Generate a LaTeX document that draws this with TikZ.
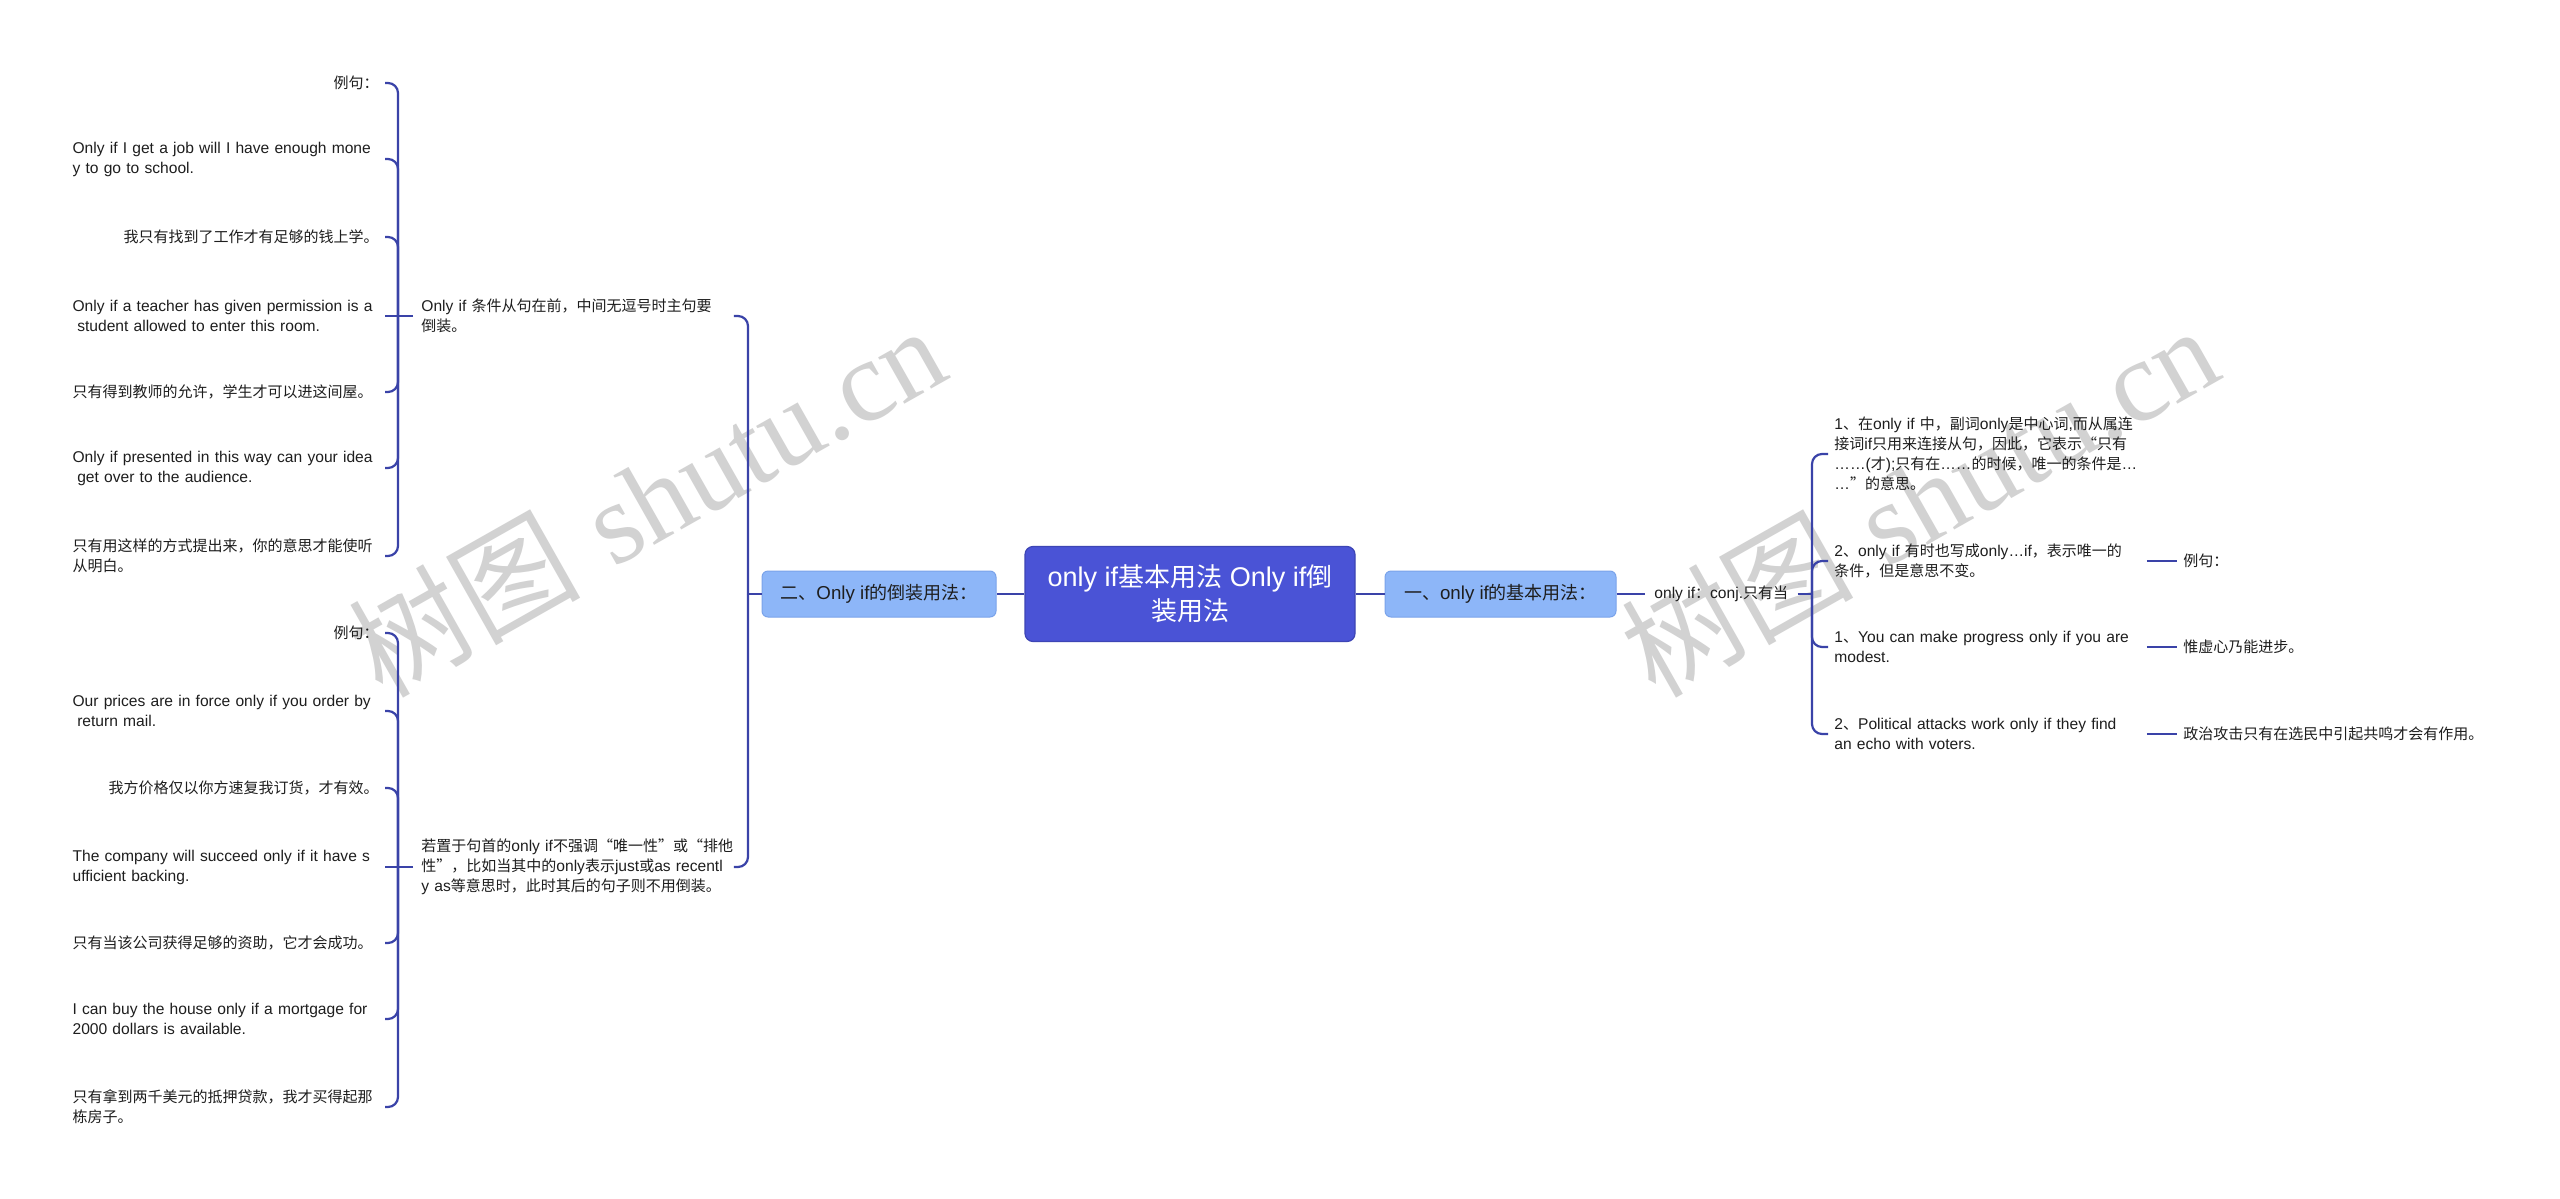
\documentclass[tikz,border=0pt]{standalone}
\usepackage{fontspec}
\setmainfont{Liberation Sans}[Scale=1.04]
\newfontfamily\cjkfont{Noto Sans CJK SC}
\newfontfamily\wmserif{Liberation Serif}
\newXeTeXintercharclass\cjkcls
\newcount\cjkcnt
\def\cjkrange#1#2{\cjkcnt=#1\relax
  \loop\XeTeXcharclass\cjkcnt=\cjkcls\relax
  \advance\cjkcnt by 1\relax
  \ifnum\cjkcnt<#2\relax\repeat}
\cjkrange{"3000}{"3040}
\cjkrange{"4E00}{"A000}
\cjkrange{"FF00}{"FFF0}
\cjkrange{"201C}{"201E}
\XeTeXinterchartoks 0 \cjkcls = {\cjkfont}
\XeTeXinterchartoks 4095 \cjkcls = {\cjkfont}
\XeTeXinterchartoks \cjkcls 0 = {\rmfamily}
\XeTeXinterchartoks \cjkcls 4095 = {\rmfamily}
\XeTeXinterchartokenstate=1
\definecolor{connc}{HTML}{3A43A8}
\definecolor{rootfill}{HTML}{4A53D6}
\definecolor{rootdraw}{HTML}{3D45B5}
\definecolor{subfill}{HTML}{8DB6F8}
\definecolor{subdraw}{HTML}{7AA3EA}
\definecolor{txt}{HTML}{1E1E1E}
\definecolor{wm}{HTML}{D2D2D2}
\newcommand\nohyph{\hyphenpenalty=10000\exhyphenpenalty=10000\relax}
\tikzset{
  conn/.style={draw=connc, line width=1.1pt, rounded corners=5pt},
  rootbox/.style={fill=rootfill, draw=rootdraw, line width=0.6pt, rounded corners=4pt,
    text=white, align=center, minimum width=165pt, minimum height=47.5pt,
    font=\fontsize{13}{17}\selectfont\nohyph, inner sep=0pt},
  subbox/.style={fill=subfill, draw=subdraw, line width=0.5pt, rounded corners=3pt,
    text=txt, minimum height=23pt, font=\fontsize{9}{12}\selectfont, inner xsep=0pt},
  txtsm/.style={text=txt, font=\fontsize{7.5}{10}\selectfont\nohyph},
  exL/.style={txtsm, anchor=east, inner xsep=3pt, inner ysep=1pt, text width=153pt, align=left},
  exR/.style={txtsm, anchor=east, inner xsep=3pt, inner ysep=1pt, text width=153pt, align=flush right},
  parL/.style={txtsm, anchor=west, inner xsep=4pt, text width=152pt, align=left},
  kidR/.style={txtsm, anchor=west, inner xsep=3pt, text width=153pt, align=left},
  leafR/.style={txtsm, anchor=west, inner xsep=3pt},
  oinode/.style={txtsm, anchor=west, inner xsep=4.5pt},
  wmark/.style={text=wm, rotate=29.5, font=\fontsize{58}{58}\selectfont, inner sep=0pt}
}
\begin{document}
\begin{tikzpicture}[x=0.5pt,y=-0.5pt]
\useasboundingbox (0,0) rectangle (2560,1199);
\fill[white] (0,0) rectangle (2560,1199);
% watermarks
\node[wmark] (wm1) at (646,500) {{\cjkfont 树图} {\wmserif shutu.cn}};
\node[wmark] (wm2) at (1919,500) {{\cjkfont 树图} {\wmserif shutu.cn}};
% main nodes
\node[rootbox] (root) at (1190,594) {only if基本用法 Only if倒\\装用法};
\node[subbox, minimum width=115.5pt] (b1) at (1500.5,594) {一、only if的基本用法：};
\node[subbox, minimum width=117pt] (b2) at (879,594) {二、Only if的倒装用法：};
% left parents
\node[parL] (pa) at (413,316) {Only~if~条件从句在前，中间无逗号时主句要\\倒装。};
\node[parL] (pb) at (413,867) {若置于句首的only~if不强调“唯一性”或“排他\\性”，比如当其中的only表示just或as~recentl\\y~as等意思时，此时其后的句子则不用倒装。};
% group 1
\node[exR] (e1) at (385,83) {例句：};
\node[exL] (e2) at (385,159) {Only~if~I~get~a~job~will~I~have~enough~mone\\y~to~go~to~school.};
\node[exR] (e3) at (385,237) {我只有找到了工作才有足够的钱上学。};
\node[exL] (e4) at (385,316) {Only~if~a~teacher~has~given~permission~is~a\\\hspace*{.3em}student~allowed~to~enter~this~room.};
\node[exL] (e5) at (385,392) {只有得到教师的允许，学生才可以进这间屋。};
\node[exL] (e6) at (385,468) {Only~if~presented~in~this~way~can~your~idea\\\hspace*{.3em}get~over~to~the~audience.};
\node[exL] (e7) at (385,556) {只有用这样的方式提出来，你的意思才能使听\\从明白。};
% group 2
\node[exR] (f1) at (385,633) {例句：};
\node[exL] (f2) at (385,711) {Our~prices~are~in~force~only~if~you~order~by\\\hspace*{.3em}return~mail.};
\node[exR] (f3) at (385,788) {我方价格仅以你方速复我订货，才有效。};
\node[exL] (f4) at (385,867) {The~company~will~succeed~only~if~it~have~s\\ufficient~backing.};
\node[exL] (f5) at (385,943) {只有当该公司获得足够的资助，它才会成功。};
\node[exL] (f6) at (385,1019) {I~can~buy~the~house~only~if~a~mortgage~for\\2000~dollars~is~available.};
\node[exL] (f7) at (385,1107) {只有拿到两千美元的抵押贷款，我才买得起那\\栋房子。};
% right side
\node[oinode] (oi) at (1645,594) {only~if：conj.只有当};
\node[kidR] (c1) at (1828,454) {1、在only~if~中，副词only是中心词,而从属连\\接词if只用来连接从句，因此，它表示“只有\\……(才);只有在……的时候，唯一的条件是…\\…”的意思。};
\node[kidR] (c2) at (1828,561) {2、only~if~有时也写成only…if，表示唯一的\\条件，但是意思不变。};
\node[kidR] (c3) at (1828,647) {1、You~can~make~progress~only~if~you~are\\modest.};
\node[kidR] (c4) at (1828,734) {2、Political~attacks~work~only~if~they~find\\an~echo~with~voters.};
\node[leafR] (g2) at (2177,561) {例句：};
\node[leafR] (g3) at (2177,647) {惟虚心乃能进步。};
\node[leafR] (g4) at (2177,734) {政治攻击只有在选民中引起共鸣才会有作用。};
% junctions
\coordinate (jA) at (398,316);
\coordinate (jB) at (398,867);
\coordinate (j2) at (748,594);
\coordinate (jR) at (1812,594);
% connectors
\draw[conn] (root.east) -- (b1.west);
\draw[conn] (root.west) -- (b2.east);
\draw[conn] (b2.west) -- (j2);
\draw[conn] (j2) |- (pa.east);
\draw[conn] (j2) |- (pb.east);
\draw[conn] (pa.west) -- (jA);
\draw[conn] (pb.west) -- (jB);
\foreach \n in {e1,e2,e3,e5,e6,e7} \draw[conn] (jA) |- (\n.east);
\draw[conn] (jA) -- (e4.east);
\foreach \n in {f1,f2,f3,f5,f6,f7} \draw[conn] (jB) |- (\n.east);
\draw[conn] (jB) -- (f4.east);
\draw[conn] (b1.east) -- (oi.west);
\draw[conn] (oi.east) -- (jR);
\foreach \n in {c1,c2,c3,c4} \draw[conn] (jR) |- (\n.west);
\draw[conn] (c2.east) -- (g2.west);
\draw[conn] (c3.east) -- (g3.west);
\draw[conn] (c4.east) -- (g4.west);
\end{tikzpicture}
\end{document}
